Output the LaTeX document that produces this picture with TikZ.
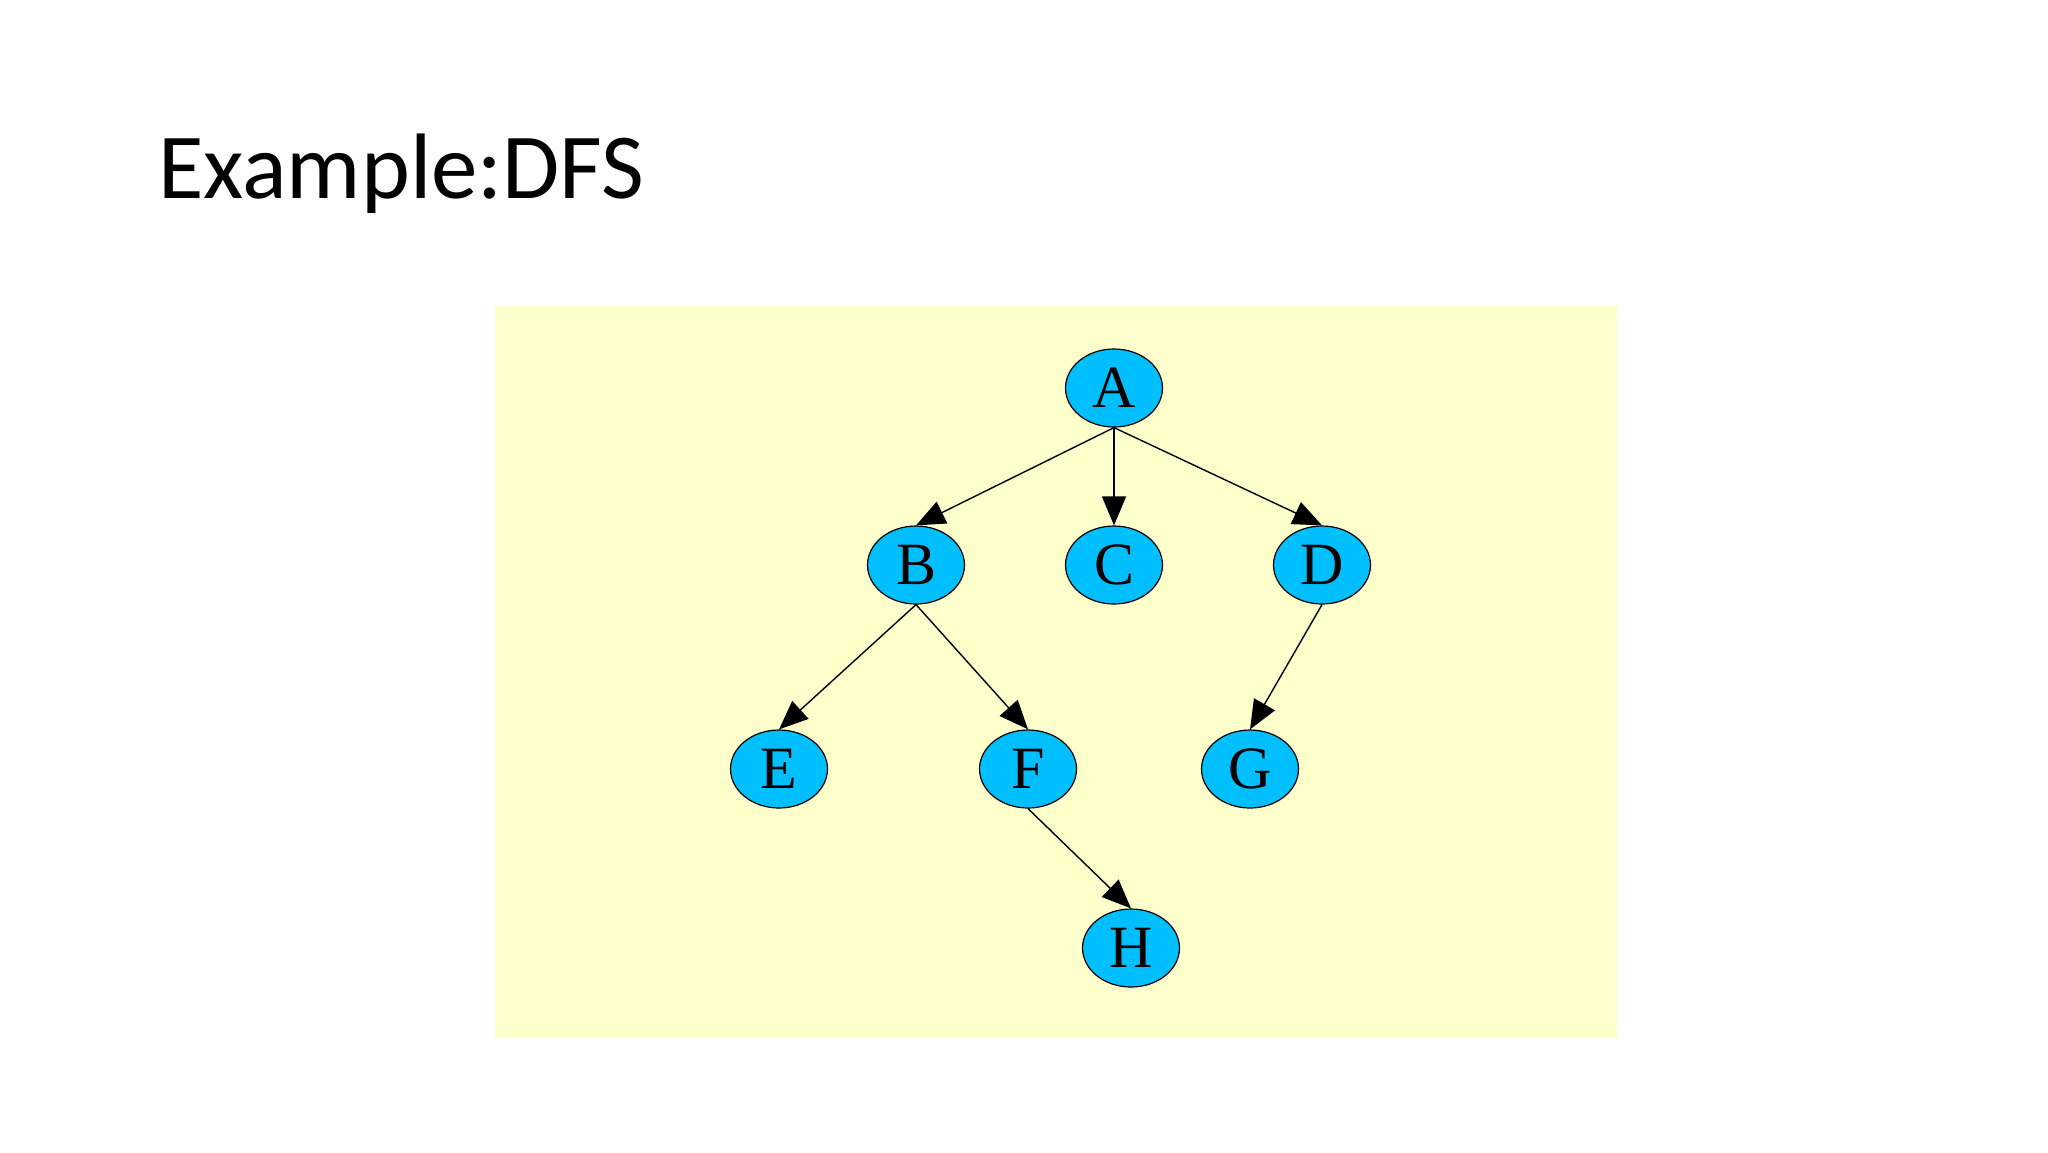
\documentclass[tikz,border=0pt]{standalone}
\usepackage{fontspec}
\setmainfont{Liberation Serif}
\newfontfamily\titlefont{Carlito}
\usetikzlibrary{arrows.meta, shapes.geometric}
\definecolor{cbg}{HTML}{FFFFCC}
\definecolor{cnode}{HTML}{00BFFF}
\definecolor{cline}{HTML}{000000}

\begin{document}
\begin{tikzpicture}[
  x=0.5pt, y=-0.5pt,
  >={Triangle[length=14.5pt, width=12pt]},
  vert/.style={ellipse, draw=cline, line width=0.6pt, fill=cnode,
               minimum width=48.5pt, minimum height=39pt, inner sep=0pt,
               font=\fontsize{30}{34}\selectfont},
  arr/.style={->, line width=0.7pt, draw=cline},
  ]
\useasboundingbox (0,0) rectangle (2048,1152);
% ---- title + panel
\node[anchor=base west, inner sep=0pt, font=\titlefont\fontsize{46.5}{56}\selectfont]
  (title) at (158,198) {Example:DFS};
\fill[cbg] (495,306) rectangle (1617,1038);
% ---- level 0
\node[vert] (A) at (1114,388) {A};
% ---- level 1
\node[vert] (B) at (916,565) {B};
\node[vert] (C) at (1114,565) {C};
\node[vert] (D) at (1322,565) {D};
% ---- level 2
\node[vert] (E) at (779,769) {E};
\node[vert] (F) at (1028,769) {F};
\node[vert] (G) at (1250,769) {G};
% ---- level 3
\node[vert] (H) at (1131,948) {H};
% arrows A
\draw[arr] (A.south) -- (B.north);
\draw[arr] (A.south) -- (C.north);
\draw[arr] (A.south) -- (D.north);
% arrows B, D
\draw[arr] (B.south) -- (E.north);
\draw[arr] (B.south) -- (F.north);
\draw[arr] (D.south) -- (G.north);
% arrows F
\draw[arr] (F.south) -- (H.north);
\end{tikzpicture}
\end{document}
